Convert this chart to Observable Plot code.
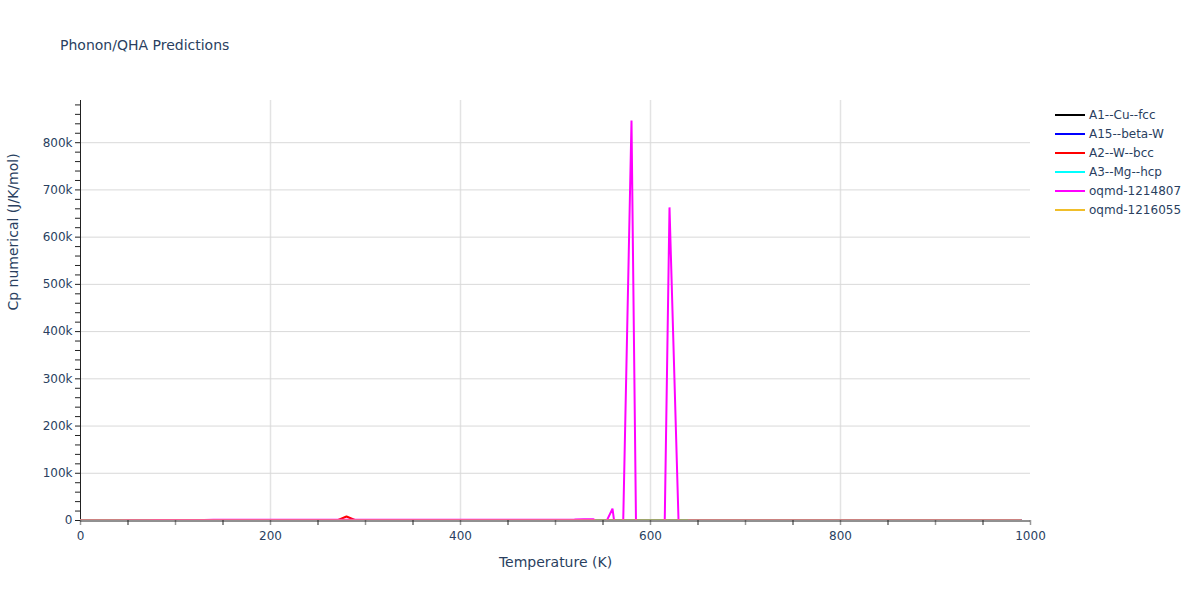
<!DOCTYPE html>
<html>
<head>
<meta charset="utf-8">
<script src="https://cdn.jsdelivr.net/npm/d3@7"></script>
<script src="https://cdn.jsdelivr.net/npm/@observablehq/plot@0.6"></script>
<style>
  body { margin: 0; background: #fff; }
  #wrap { position: relative; width: 1200px; height: 600px; font-family: "DejaVu Sans", verdana, sans-serif; color: #2a3f5f; }
  #title { position: absolute; left: 60px; top: 37px; font-size: 14px; line-height: normal; white-space: nowrap; }
  #legend { position: absolute; left: 1055px; top: 105px; font-size: 12px; }
  .item { display: flex; align-items: center; height: 19px; }
  .swatch { width: 30px; height: 2px; margin-right: 4px; }
</style>
</head>
<body>
<div id="wrap">
  <div id="plot"></div>
  <div id="title">Phonon/QHA Predictions</div>
  <div id="legend"></div>
</div>
<script>
// ---- data ----
const seriesNames = ["A1--Cu--fcc", "A15--beta-W", "A2--W--bcc", "A3--Mg--hcp", "oqmd-1214807", "oqmd-1216055"];
const seriesColors = ["#000000", "#0000ff", "#ff0000", "#00ffff", "#ff00ff", "#f0be2a"];

const tempsCoarse = [0, 50, 100, 150, 200, 250, 300, 350, 400, 450, 500, 550, 600, 650, 700, 750, 800, 850, 900, 950, 990];
const cpCu = [0, 9.8, 16.1, 20.2, 22.0, 23.0, 23.6, 24.0, 24.3, 24.5, 24.7, 24.9, 25.0, 25.2, 25.3, 25.5, 25.6, 25.8, 25.9, 26.1, 26.2];
const cpA15W = [0, 5.5, 13.8, 18.5, 21.1, 22.5, 23.3, 23.8, 24.1, 24.4, 24.6, 24.8, 25.0, 25.1, 25.3, 25.4, 25.6, 25.7, 25.9, 26.0, 26.1];
const cpMg = [0, 8.9, 15.8, 19.9, 21.9, 23.0, 23.6, 24.0, 24.3, 24.6, 24.8, 25.0, 25.2, 25.4, 25.6, 25.8, 26.0, 26.2, 26.4, 26.6, 26.8];
const cp1216055 = [0, 7.2, 15.0, 19.3, 21.5, 22.7, 23.4, 23.9, 24.2, 24.4, 24.6, 24.8, 24.9, 25.1, 25.2, 25.4, 25.5, 25.6, 25.8, 25.9, 26.0];

const tempsW = [0, 50, 100, 150, 200, 250, 270, 280, 290, 300, 350, 400, 450, 500, 550, 600, 650, 700, 750, 800, 850, 900, 950, 990];
const cpW = [0, 6.0, 14.9, 19.8, 21.9, 23.0, 23.3, 8500, 23.5, 23.6, 23.9, 24.1, 24.3, 24.5, 24.7, 24.9, 25.0, 25.2, 25.4, 25.5, 25.7, 25.9, 26.0, 26.2];

const tempsFine = [0, 10, 20, 30, 40, 50, 60, 70, 80, 90,
  100, 110, 120, 130, 140, 150, 160, 170, 180, 190,
  200, 210, 220, 230, 240, 250, 260, 270, 280, 290,
  300, 310, 320, 330, 340, 350, 360, 370, 380, 390,
  400, 410, 420, 430, 440, 450, 460, 470, 480, 490,
  500, 510, 520, 530, 540, 550, 560, 570, 580, 590,
  600, 610, 620, 630, 640, 650, 660, 670, 680, 690,
  700, 710, 720, 730, 740, 750, 760, 770, 780, 790,
  800, 810, 820, 830, 840, 850, 860, 870, 880, 890,
  900, 910, 920, 930, 940, 950, 960, 970, 980, 990];
const cp1214807 = [0, 10, 40, 100, 200, 330, 480, 640, 800, 950,
  1080, 1180, 1260, 1320, 1370, 1410, 1440, 1470, 1490, 1510,
  1530, 1540, 1550, 1560, 1570, 1580, 1590, 1600, 1600, 1610,
  1610, 1620, 1630, 1630, 1640, 1650, 1650, 1660, 1660, 1670,
  1670, 1680, 1680, 1690, 1690, 1700, 1700, 1710, 1710, 1720,
  1720, 1750, 1900, 2600, 2900, -17000, 25000, -126000, 847000, -955000,
  -420000, -663000, 663000, -35000, 24.6, 24.7, 24.7, 24.8, 24.8, 24.9,
  24.9, 25.0, 25.0, 25.1, 25.1, 25.2, 25.2, 25.3, 25.3, 25.4,
  25.4, 25.5, 25.5, 25.6, 25.6, 25.7, 25.7, 25.8, 25.8, 25.9,
  25.9, 26.0, 26.0, 26.0, 26.1, 26.1, 26.2, 26.2, 26.3, 26.3];

const xTickLabels = [0, 200, 400, 600, 800, 1000];
const yTickLabels = [0, 100000, 200000, 300000, 400000, 500000, 600000, 700000, 800000];
const yMax = 847000 * 1.05;

const zip = (name, ts, vs) => ts.map((t, i) => ({series: name, T: t, cp: vs[i]}));
const lines = [
  zip(seriesNames[0], tempsCoarse, cpCu),
  zip(seriesNames[1], tempsCoarse, cpA15W),
  zip(seriesNames[2], tempsW, cpW),
  zip(seriesNames[3], tempsCoarse, cpMg),
  zip(seriesNames[4], tempsFine, cp1214807),
  zip(seriesNames[5], tempsCoarse, cp1216055)
];

const xMinorBlack = [50, 150, 250, 350, 450, 550, 650, 750, 850, 950];
const xMinorGrey = [0, 100, 200, 300, 400, 500, 600, 700, 800, 900, 1000];
const yMinor = d3.range(0, 880001, 20000);
const fmtY = d => d === 0 ? "0" : (d / 1000) + "k";

const chart = Plot.plot({
  width: 1200,
  height: 600,
  marginLeft: 80,
  marginRight: 170,
  marginTop: 100,
  marginBottom: 80,
  style: {fontFamily: '"DejaVu Sans", verdana, sans-serif', color: "#2a3f5f", background: "white"},
  x: {domain: [0, 1000], axis: null},
  y: {domain: [0, yMax], axis: null},
  marks: [
    Plot.gridX([200, 400, 600, 800], {stroke: "#e3e3e3", strokeOpacity: 1, strokeWidth: 1.5}),
    Plot.gridY(yTickLabels.slice(1), {stroke: "#d9d9d9", strokeOpacity: 1, strokeWidth: 1}),
    Plot.axisX(xMinorBlack, {tickSize: 5, tickFormat: () => "", stroke: "#222", label: null}),
    Plot.axisX(xMinorGrey, {tickSize: 5, tickFormat: () => "", stroke: "#999", strokeWidth: 1.5, label: null}),
    Plot.axisX(xTickLabels, {tickSize: 0, tickPadding: 11, tickFormat: d => String(d), fontSize: 12, label: null, fill: "#2a3f5f"}),
    Plot.axisY(yMinor, {tickSize: 5, tickFormat: () => "", stroke: "#222", label: null}),
    Plot.axisY(yTickLabels, {tickSize: 0, tickPadding: 8, tickFormat: fmtY, fontSize: 12, label: null, fill: "#2a3f5f"}),
    Plot.ruleX([0], {stroke: "#222", strokeWidth: 1}),
    Plot.ruleY([0], {stroke: "#222", strokeWidth: 1, dy: 0.5}),
    ...lines.map((d, i) => Plot.line(d, {x: "T", y: "cp", stroke: seriesColors[i], strokeWidth: 2, strokeLinejoin: "miter", clip: true})),
    Plot.text(["Temperature (K)"], {frameAnchor: "bottom", dy: 46, fontSize: 14, fill: "#2a3f5f"}),
    Plot.text(["Cp numerical (J/K/mol)"], {frameAnchor: "left", dx: -67, rotate: -90, fontSize: 14, fill: "#2a3f5f"})
  ]
});
document.getElementById("plot").appendChild(chart);

const legend = document.getElementById("legend");
seriesNames.forEach((name, i) => {
  const item = document.createElement("div");
  item.className = "item";
  const sw = document.createElement("div");
  sw.className = "swatch";
  sw.style.background = seriesColors[i];
  const label = document.createElement("span");
  label.textContent = name;
  item.appendChild(sw);
  item.appendChild(label);
  legend.appendChild(item);
});
</script>
</body>
</html>
